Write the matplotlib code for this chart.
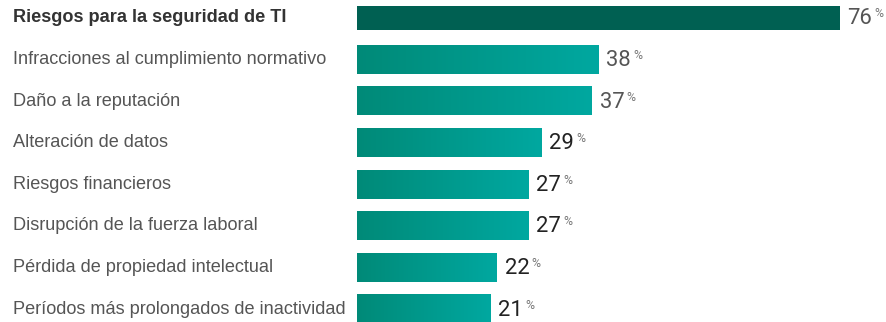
import matplotlib
matplotlib.use("Agg")
import matplotlib.pyplot as plt
import numpy as np
from matplotlib.colors import LinearSegmentedColormap

categories = [
    "Riesgos para la seguridad de TI",
    "Infracciones al cumplimiento normativo",
    "Daño a la reputación",
    "Alteración de datos",
    "Riesgos financieros",
    "Disrupción de la fuerza laboral",
    "Pérdida de propiedad intelectual",
    "Períodos más prolongados de inactividad",
]
values = [76, 38, 37, 29, 27, 27, 22, 21]

plt.rcParams['font.family'] = ['Liberation Sans', 'DejaVu Sans']

W, H = 887, 322
fig = plt.figure(figsize=(W / 100, H / 100), dpi=100)
x0 = 357 / W
ax = fig.add_axes([x0, 0, 1 - x0, 1])
px_per_unit = 6.35
ax.set_xlim(0, (W - 357) / px_per_unit)
ax.set_ylim(7.31, -0.43)
ax.axis('off')

grad_cmap = LinearSegmentedColormap.from_list('g', ['#008a78', '#00a8a0'])
grad = np.linspace(0, 1, 256).reshape(1, -1)

renderer = fig.canvas.get_renderer()
for i, (cat, v) in enumerate(zip(categories, values)):
    if i == 0:
        h = 0.58
        ax.barh(i, v, height=h, color='#006052', edgecolor='none')
    else:
        h = 0.685
        ax.imshow(grad, cmap=grad_cmap, aspect='auto',
                  extent=(0, v, i + h / 2, i - h / 2), interpolation='bilinear', zorder=2)
    ax.annotate(cat, xy=(0, i), xycoords='data',
                xytext=(-344, 0), textcoords='offset pixels',
                ha='left', va='center', fontsize=13.1,
                fontweight='bold' if i == 0 else 'normal',
                color='#333333' if i == 0 else '#555555')
    numcol = '#555555' if i < 3 else '#222222'
    t = ax.annotate(str(v), xy=(v, i), xytext=(8, -1), textcoords='offset pixels',
                    ha='left', va='center', fontsize=15.8, color=numcol,
                    family=['Roboto', 'DejaVu Sans'])
    bb = t.get_window_extent(renderer)
    wpx = bb.width
    ax.annotate('%', xy=(v, i), xytext=(8 + wpx + 2, 4), textcoords='offset pixels',
                ha='left', va='center', fontsize=8.8, color='#777777',
                family=['Roboto', 'DejaVu Sans'])

ax.set_xlim(0, (W - 357) / px_per_unit)
ax.set_ylim(7.31, -0.43)
fig.savefig('out.png', dpi=100)
